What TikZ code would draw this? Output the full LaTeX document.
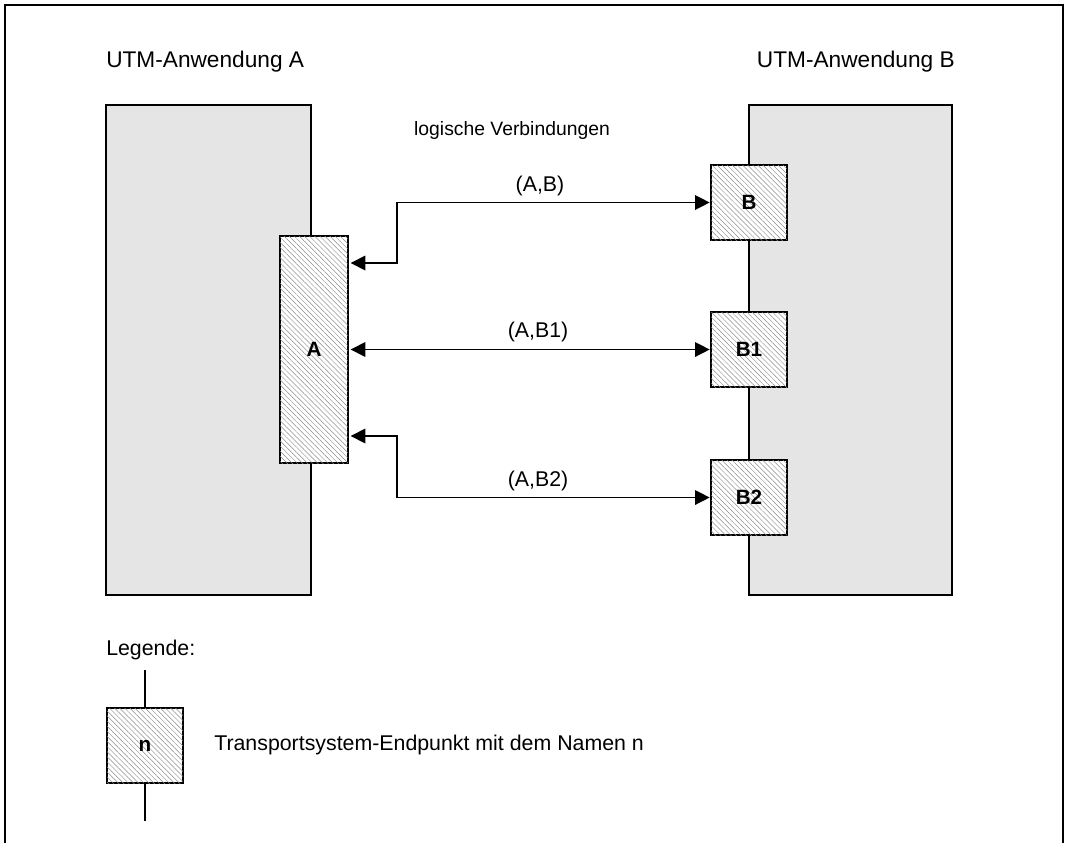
\documentclass[tikz,border=0pt]{standalone}
\usepackage{fontspec}
\setmainfont{Liberation Sans}
\usetikzlibrary{patterns.meta,arrows.meta}
\begin{document}
\begin{tikzpicture}[x=0.75pt,y=-0.75pt,
  font=\fontsize{16}{19}\selectfont,
  appbox/.style={draw,line width=1.1pt,fill=black!10,inner sep=0pt,outer sep=0pt,
    minimum width=#1*0.75pt,minimum height=367.5pt},
  tsep/.style={draw,line width=1.1pt,inner sep=0pt,outer sep=0pt,
    fill=white,postaction={pattern={Lines[angle=-45,distance=2.7pt,line width=0.35pt]},pattern color=black!45},
    font=\fontsize{15.5}{18}\selectfont\bfseries,
    minimum width=57pt,minimum height=56.25pt},
  conn/.style={line width=1pt,shorten <=2pt,shorten >=1pt,{Triangle[length=11pt,width=11pt]}-{Triangle[length=11pt,width=11pt]}},
  lbl/.style={font=\fontsize{16}{19}\selectfont},
  ttl/.style={font=\fontsize{17}{20}\selectfont,inner sep=0pt},
  plain/.style={line width=1pt}
]
\useasboundingbox (0,0) rectangle (1066,843);
\draw[line width=1.3pt] (5,843) -- (5,5) -- (1063,5) -- (1063,843);

\node[anchor=west,ttl] (tA) at (106,62) {UTM-Anwendung A};
\node[anchor=east,ttl] (tB) at (955,62) {UTM-Anwendung B};
\node[font=\fontsize{14.5}{17}\selectfont] (tlog) at (512,130) {logische Verbindungen};

\node[appbox=205] (AppA) at (208.5,350) {};
\node[appbox=203] (AppB) at (850.5,350) {};

\node[tsep,minimum width=51pt,minimum height=170.25pt] (hA) at (314,349.5) {A};
\node[tsep] (hB) at (749,202.5) {B};
\node[tsep] (hB1) at (749,349.5) {B1};
\node[tsep] (hB2) at (749,497.5) {B2};

\coordinate (c1) at (397,263);
\coordinate (c2) at (397,436);
\draw[conn] (hA.east |- c1) -- (c1) |- (hB.west);
\draw[conn] (hA.east |- hB1.west) -- (hB1.west);
\draw[conn] (hA.east |- c2) -- (c2) |- (hB2.west);

\node[lbl] (lAB) at (540,186) {(A,B)};
\node[lbl] (lAB1) at (538,332) {(A,B1)};
\node[lbl] (lAB2) at (538,481) {(A,B2)};

\node[anchor=west,inner sep=0pt,lbl] (leg) at (106,650) {Legende:};
\node[tsep] (hn) at (145,745.5) {n};
\coordinate (ln1) at (145,670);
\coordinate (ln2) at (145,821);
\draw[plain] (ln1) -- (hn.north);
\draw[plain] (hn.south) -- (ln2);
\node[anchor=west,inner sep=0pt,lbl] (legtxt) at (214,745) {Transportsystem-Endpunkt mit dem Namen n};
\end{tikzpicture}
\end{document}
